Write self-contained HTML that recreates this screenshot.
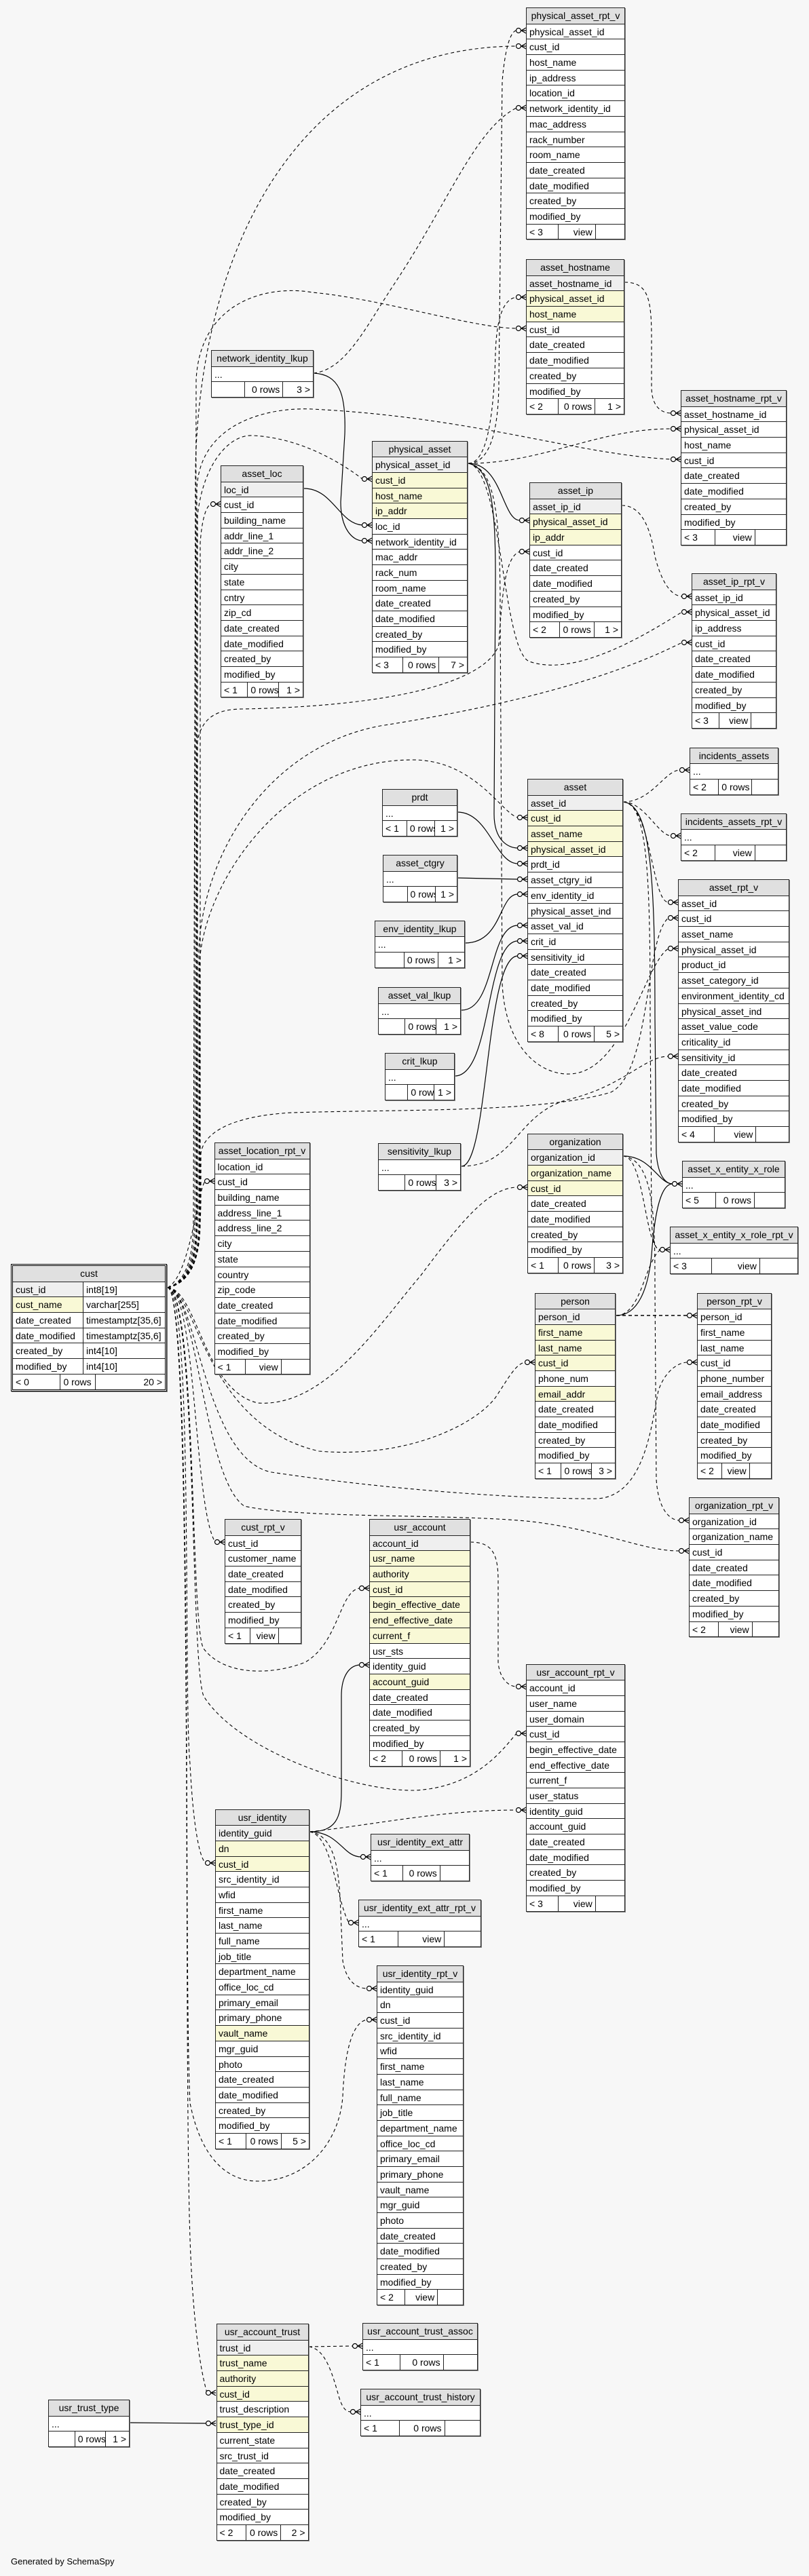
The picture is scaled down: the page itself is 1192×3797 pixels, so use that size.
<!DOCTYPE html>
<html><head><meta charset="utf-8"><style>
*{margin:0;padding:0}
body{width:1192px;height:3797px;background:#f7f7f7;position:relative;overflow:hidden;font:14px "Liberation Sans",Arial,sans-serif;color:#000}
svg{position:absolute;left:0;top:0}
.t{position:absolute;border:1px solid #222;background:#fff;box-sizing:border-box;box-shadow:1px 1px 0 #888}
.t>div{height:22.7px;line-height:22px;border-top:1px solid #222;padding-left:4px;white-space:nowrap;overflow:hidden;box-sizing:border-box}
.t>div.h{background:#e0e0e0;text-align:center;border-top:none;padding-left:0}
.t>div.k{background:#efefef}
.t>div.y{background:#f9f9d6}
.t>div.f{display:flex;padding-left:0}
.f span{display:block;box-sizing:border-box;height:100%;padding:0 4px;overflow:hidden}
.f span:nth-child(1){width:32%}
.f span:nth-child(2){width:38%;border-left:1px solid #222;text-align:right}
.f span:nth-child(3){flex:1;border-left:1px solid #222;text-align:right}
.c{border:3px double #000}
.t>div.r{display:flex;padding-left:0}
.r span{display:block;box-sizing:border-box;padding-left:4px;height:100%}
.r span:first-child{width:104px;border-right:1px solid #222}
#gen{position:absolute;left:16px;top:3768px;font-size:13px}
</style></head><body>
<svg width="1192" height="3797" viewBox="0 0 1192 3797">
<defs><g id="cf" fill="none" stroke="#000" stroke-width="1.2"><circle cx="-11" cy="0" r="3.5" fill="#fff"/><path d="M-7 0L0 -4M-7 0L0 0M-7 0L0 4"/></g></defs>
<g fill="none" stroke="#000" stroke-width="1.1" stroke-dasharray="5,4">
<path d="M247,1898 C275,1890 285,1850 285,1800 L288,700 C290,400 420,70 761,68"/>
<path d="M247,1898 C278,1890 287,1850 287,1800 L289,560 C295,440 400,420 460,431 C560,440 700,484 761,484"/>
<path d="M247,1898 C280,1890 289,1850 289,1800 L290,720 C295,620 400,600 460,603 C700,615 850,670 989,677"/>
<path d="M247,1898 C282,1890 291,1850 291,1800 L291,760 C300,680 340,640 372,642 C440,645 500,680 534,706"/>
<path d="M247,1898 C284,1890 295,1850 295,1800 L295,800 C298,760 305,745 311,743"/>
<path d="M247,1898 C280,1890 290,1850 290,1800 L290,1100 C295,1050 330,1045 360,1045 C600,1040 720,1000 735,950 C740,870 745,820 766,813"/>
<path d="M247,1898 C283,1890 293,1850 293,1800 L293,1400 C300,1250 400,1100 560,1070 C750,1040 900,1000 1005,947"/>
<path d="M247,1898 C284,1890 294,1850 294,1800 L294,1420 C300,1300 420,1120 608,1120 C700,1120 740,1200 763,1205"/>
<path d="M247,1898 C285,1890 296,1850 296,1760 L296,1700 C300,1670 340,1645 430,1640 C600,1635 800,1640 900,1610 C960,1580 950,1380 985,1353"/>
<path d="M247,1898 C280,1880 290,1760 302,1741"/>
<path d="M247,1898 C290,1900 300,2050 380,2068 C480,2075 560,1950 620,1880 C680,1800 720,1750 763,1750"/>
<path d="M247,1898 C290,1900 300,2100 470,2139 C600,2150 700,2100 730,2060 C750,2030 760,2010 774,2008"/>
<path d="M247,1898 C290,1900 300,2150 400,2170 C600,2200 800,2210 880,2209 C950,2205 960,2100 970,2050 C980,2020 1000,2008 1013,2008"/>
<path d="M247,1898 C290,1900 300,2180 360,2220 C450,2240 700,2230 800,2245 C900,2260 950,2286 1001,2286"/>
<path d="M247,1898 C290,1900 285,2220 317,2273"/>
<path d="M247,1898 C290,1900 280,2400 300,2430 C330,2470 400,2470 450,2450 C500,2420 500,2345 530,2341"/>
<path d="M247,1898 C290,1900 280,2450 300,2500 C350,2580 520,2640 610,2639 C700,2635 740,2580 761,2555"/>
<path d="M247,1898 C285,1900 270,2500 280,2600 C285,2700 295,2740 303,2746"/>
<path d="M247,1898 C285,1900 270,2900 280,3100 C300,3200 350,3215 380,3215 C450,3215 500,3160 505,3090 C508,3020 520,2980 541,2977"/>
<path d="M247,1898 C285,1900 270,3000 280,3300 C285,3450 300,3510 305,3527"/>
<path d="M462,550 C510,545 540,480 580,420 C660,300 700,190 761,159"/>
<path d="M690,683 C720,683 735,640 735,560 L740,120 C745,60 755,45 761,45"/>
<path d="M690,683 C720,683 728,600 730,520 C732,460 745,440 761,438"/>
<path d="M690,683 C800,683 880,632 989,632"/>
<path d="M690,683 C740,690 740,960 780,975 C850,1000 960,930 1005,902"/>
<path d="M690,683 C730,690 737,760 737,900 L740,1450 C745,1550 800,1585 840,1583 C920,1580 950,1420 985,1398"/>
<path d="M920,416 C955,416 960,440 960,500 L960,570 C960,600 975,609 989,609"/>
<path d="M916,745 C950,745 960,790 965,820 C975,860 990,879 1005,879"/>
<path d="M680,1719 C760,1719 760,1640 840,1620 C920,1600 950,1557 985,1557"/>
<path d="M918,1182 C960,1182 980,1135 1002,1135"/>
<path d="M918,1182 C950,1182 970,1232 989,1232"/>
<path d="M918,1182 C960,1185 960,1330 985,1330"/>
<path d="M918,1182 C955,1182 958,1300 958,1500 L960,1800 C962,1830 965,1842 973,1842"/>
<path d="M918,1704 C950,1704 950,1842 973,1842"/>
<path d="M918,1704 C965,1710 965,1800 965,1900 L967,2180 C970,2230 990,2241 1001,2241"/>
<path d="M908,1939 L1013,1939" stroke-width="1.6"/>
<path d="M908,1939 C945,1939 950,1860 973,1842"/>
<path d="M693,2273 C725,2273 734,2290 734,2330 L734,2450 C736,2475 750,2486 761,2486"/>
<path d="M456,2700 C550,2690 650,2668 761,2668"/>
<path d="M456,2700 C490,2705 495,2800 514,2834"/>
<path d="M456,2700 C495,2705 500,2760 502,2820 L505,2890 C510,2920 525,2931 541,2931"/>
<path d="M455,3459 L520,3458"/>
<path d="M455,3459 C480,3462 490,3500 500,3535 C505,3550 510,3555 517,3555"/>
</g>
<g fill="none" stroke="#000" stroke-width="1.2">
<path d="M462,550 C500,552 510,580 508,640 L502,740 C502,780 520,797 534,797"/>
<path d="M448,720 C490,720 500,772 534,774"/>
<path d="M690,683 C740,683 740,767 766,767"/>
<path d="M690,683 C725,690 730,750 730,850 L728,1200 C728,1240 750,1250 763,1250"/>
<path d="M674,1197 C720,1197 730,1273 763,1273"/>
<path d="M674,1294 L763,1296"/>
<path d="M685,1390 C740,1390 735,1318 763,1318"/>
<path d="M680,1489 C730,1489 720,1364 763,1364"/>
<path d="M670,1586 C725,1586 715,1387 763,1387"/>
<path d="M680,1719 C720,1719 715,1409 763,1409"/>
<path d="M918,1182 C960,1185 965,1300 965,1500 L967,1700 C970,1740 985,1745 991,1745"/>
<path d="M918,1704 C960,1704 970,1745 991,1745"/>
<path d="M908,1939 C940,1939 955,1900 960,1850 C965,1780 975,1745 991,1745"/>
<path d="M456,2700 C495,2700 503,2680 503,2640 L503,2500 C503,2470 515,2455 530,2454"/>
<path d="M456,2700 C500,2700 505,2737 532,2737"/>
<path d="M191,3571 L304,3572"/>
</g>
<use href="#cf" x="775" y="45"/><use href="#cf" x="775" y="68"/><use href="#cf" x="775" y="159"/>
<use href="#cf" x="775" y="438"/><use href="#cf" x="775" y="484"/>
<use href="#cf" x="1003" y="609"/><use href="#cf" x="1003" y="632"/><use href="#cf" x="1003" y="677"/>
<use href="#cf" x="548" y="706"/><use href="#cf" x="548" y="774"/><use href="#cf" x="548" y="797"/>
<use href="#cf" x="325" y="743"/>
<use href="#cf" x="780" y="767"/><use href="#cf" x="780" y="813"/>
<use href="#cf" x="1019" y="879"/><use href="#cf" x="1019" y="902"/><use href="#cf" x="1019" y="947"/>
<use href="#cf" x="1016" y="1135"/><use href="#cf" x="1003" y="1232"/>
<use href="#cf" x="777" y="1205"/><use href="#cf" x="777" y="1250"/><use href="#cf" x="777" y="1273"/><use href="#cf" x="777" y="1296"/><use href="#cf" x="777" y="1318"/><use href="#cf" x="777" y="1364"/><use href="#cf" x="777" y="1387"/><use href="#cf" x="777" y="1409"/>
<use href="#cf" x="999" y="1330"/><use href="#cf" x="999" y="1353"/><use href="#cf" x="999" y="1398"/><use href="#cf" x="999" y="1557"/>
<use href="#cf" x="777" y="1750"/>
<use href="#cf" x="1005" y="1745"/><use href="#cf" x="987" y="1842"/>
<use href="#cf" x="316" y="1741"/>
<use href="#cf" x="788" y="2008"/><use href="#cf" x="1027" y="1939"/><use href="#cf" x="1027" y="2008"/>
<use href="#cf" x="1015" y="2241"/><use href="#cf" x="1015" y="2286"/>
<use href="#cf" x="331" y="2273"/>
<use href="#cf" x="544" y="2341"/><use href="#cf" x="544" y="2454"/>
<use href="#cf" x="775" y="2486"/><use href="#cf" x="775" y="2555"/><use href="#cf" x="775" y="2668"/>
<use href="#cf" x="317" y="2746"/>
<use href="#cf" x="546" y="2737"/><use href="#cf" x="528" y="2834"/>
<use href="#cf" x="555" y="2931"/><use href="#cf" x="555" y="2977"/>
<use href="#cf" x="318" y="3527"/><use href="#cf" x="318" y="3572"/>
<use href="#cf" x="534" y="3458"/><use href="#cf" x="531" y="3555"/>
</svg>

<div class="t" style="left:775px;top:11px;width:146px"><div class="h">physical_asset_rpt_v</div><div>physical_asset_id</div><div>cust_id</div><div>host_name</div><div>ip_address</div><div>location_id</div><div>network_identity_id</div><div>mac_address</div><div>rack_number</div><div>room_name</div><div>date_created</div><div>date_modified</div><div>created_by</div><div>modified_by</div><div class="f"><span>&lt; 3</span><span>view</span><span></span></div></div>

<div class="t" style="left:775px;top:382px;width:145px"><div class="h">asset_hostname</div><div class="k">asset_hostname_id</div><div class="y">physical_asset_id</div><div class="y">host_name</div><div>cust_id</div><div>date_created</div><div>date_modified</div><div>created_by</div><div>modified_by</div><div class="f"><span>&lt; 2</span><span>0 rows</span><span>1 &gt;</span></div></div>

<div class="t" style="left:311px;top:516px;width:151px"><div class="h">network_identity_lkup</div><div>...</div><div class="f"><span></span><span>0 rows</span><span>3 &gt;</span></div></div>

<div class="t" style="left:1003px;top:575px;width:156px"><div class="h">asset_hostname_rpt_v</div><div>asset_hostname_id</div><div>physical_asset_id</div><div>host_name</div><div>cust_id</div><div>date_created</div><div>date_modified</div><div>created_by</div><div>modified_by</div><div class="f"><span>&lt; 3</span><span>view</span><span></span></div></div>

<div class="t" style="left:548px;top:649.5px;width:141px"><div class="h">physical_asset</div><div class="k">physical_asset_id</div><div class="y">cust_id</div><div class="y">host_name</div><div class="y">ip_addr</div><div>loc_id</div><div>network_identity_id</div><div>mac_addr</div><div>rack_num</div><div>room_name</div><div>date_created</div><div>date_modified</div><div>created_by</div><div>modified_by</div><div class="f"><span>&lt; 3</span><span>0 rows</span><span>7 &gt;</span></div></div>

<div class="t" style="left:325px;top:686px;width:122px"><div class="h">asset_loc</div><div class="k">loc_id</div><div>cust_id</div><div>building_name</div><div>addr_line_1</div><div>addr_line_2</div><div>city</div><div>state</div><div>cntry</div><div>zip_cd</div><div>date_created</div><div>date_modified</div><div>created_by</div><div>modified_by</div><div class="f"><span>&lt; 1</span><span>0 rows</span><span>1 &gt;</span></div></div>

<div class="t" style="left:780px;top:711px;width:136px"><div class="h">asset_ip</div><div class="k">asset_ip_id</div><div class="y">physical_asset_id</div><div class="y">ip_addr</div><div>cust_id</div><div>date_created</div><div>date_modified</div><div>created_by</div><div>modified_by</div><div class="f"><span>&lt; 2</span><span>0 rows</span><span>1 &gt;</span></div></div>

<div class="t" style="left:1019px;top:845px;width:125px"><div class="h">asset_ip_rpt_v</div><div>asset_ip_id</div><div>physical_asset_id</div><div>ip_address</div><div>cust_id</div><div>date_created</div><div>date_modified</div><div>created_by</div><div>modified_by</div><div class="f"><span>&lt; 3</span><span>view</span><span></span></div></div>

<div class="t" style="left:1016px;top:1101.5px;width:131px"><div class="h">incidents_assets</div><div>...</div><div class="f"><span>&lt; 2</span><span>0 rows</span><span></span></div></div>

<div class="t" style="left:1003px;top:1198.5px;width:156px"><div class="h">incidents_assets_rpt_v</div><div>...</div><div class="f"><span>&lt; 2</span><span>view</span><span></span></div></div>

<div class="t" style="left:563px;top:1163px;width:111px"><div class="h">prdt</div><div>...</div><div class="f"><span>&lt; 1</span><span>0 rows</span><span>1 &gt;</span></div></div>

<div class="t" style="left:777px;top:1148px;width:141px"><div class="h">asset</div><div class="k">asset_id</div><div class="y">cust_id</div><div class="y">asset_name</div><div class="y">physical_asset_id</div><div>prdt_id</div><div>asset_ctgry_id</div><div>env_identity_id</div><div>physical_asset_ind</div><div>asset_val_id</div><div>crit_id</div><div>sensitivity_id</div><div>date_created</div><div>date_modified</div><div>created_by</div><div>modified_by</div><div class="f"><span>&lt; 8</span><span>0 rows</span><span>5 &gt;</span></div></div>

<div class="t" style="left:564px;top:1260px;width:110px"><div class="h">asset_ctgry</div><div>...</div><div class="f"><span></span><span>0 rows</span><span>1 &gt;</span></div></div>

<div class="t" style="left:999px;top:1296px;width:164px"><div class="h">asset_rpt_v</div><div>asset_id</div><div>cust_id</div><div>asset_name</div><div>physical_asset_id</div><div>product_id</div><div>asset_category_id</div><div>environment_identity_cd</div><div>physical_asset_ind</div><div>asset_value_code</div><div>criticality_id</div><div>sensitivity_id</div><div>date_created</div><div>date_modified</div><div>created_by</div><div>modified_by</div><div class="f"><span>&lt; 4</span><span>view</span><span></span></div></div>

<div class="t" style="left:552px;top:1356.5px;width:133px"><div class="h">env_identity_lkup</div><div>...</div><div class="f"><span></span><span>0 rows</span><span>1 &gt;</span></div></div>

<div class="t" style="left:557px;top:1455px;width:122px"><div class="h">asset_val_lkup</div><div>...</div><div class="f"><span></span><span>0 rows</span><span>1 &gt;</span></div></div>

<div class="t" style="left:567px;top:1552px;width:103px"><div class="h">crit_lkup</div><div>...</div><div class="f"><span></span><span>0 rows</span><span>1 &gt;</span></div></div>

<div class="t" style="left:557px;top:1685px;width:122px"><div class="h">sensitivity_lkup</div><div>...</div><div class="f"><span></span><span>0 rows</span><span>3 &gt;</span></div></div>

<div class="t" style="left:777px;top:1670.5px;width:141px"><div class="h">organization</div><div class="k">organization_id</div><div class="y">organization_name</div><div class="y">cust_id</div><div>date_created</div><div>date_modified</div><div>created_by</div><div>modified_by</div><div class="f"><span>&lt; 1</span><span>0 rows</span><span>3 &gt;</span></div></div>

<div class="t" style="left:1005px;top:1711px;width:152px"><div class="h">asset_x_entity_x_role</div><div>...</div><div class="f"><span>&lt; 5</span><span>0 rows</span><span></span></div></div>

<div class="t" style="left:987px;top:1808px;width:189px"><div class="h">asset_x_entity_x_role_rpt_v</div><div>...</div><div class="f"><span>&lt; 3</span><span>view</span><span></span></div></div>

<div class="t" style="left:315.5px;top:1684px;width:141px"><div class="h">asset_location_rpt_v</div><div>location_id</div><div>cust_id</div><div>building_name</div><div>address_line_1</div><div>address_line_2</div><div>city</div><div>state</div><div>country</div><div>zip_code</div><div>date_created</div><div>date_modified</div><div>created_by</div><div>modified_by</div><div class="f"><span>&lt; 1</span><span>view</span><span></span></div></div>

<div class="t c" style="left:16px;top:1863px;width:230px"><div class="h">cust</div><div class="r"><span style="background:#efefef">cust_id</span><span>int8[19]</span></div><div class="r"><span style="background:#f9f9d6">cust_name</span><span>varchar[255]</span></div><div class="r"><span>date_created</span><span>timestamptz[35,6]</span></div><div class="r"><span>date_modified</span><span>timestamptz[35,6]</span></div><div class="r"><span>created_by</span><span>int4[10]</span></div><div class="r"><span>modified_by</span><span>int4[10]</span></div><div class="f"><span style="width:31%">&lt; 0</span><span style="width:23%;text-align:left">0 rows</span><span>20 &gt;</span></div></div>

<div class="t" style="left:788px;top:1905.5px;width:119px"><div class="h">person</div><div class="k">person_id</div><div class="y">first_name</div><div class="y">last_name</div><div class="y">cust_id</div><div>phone_num</div><div class="y">email_addr</div><div>date_created</div><div>date_modified</div><div>created_by</div><div>modified_by</div><div class="f"><span>&lt; 1</span><span>0 rows</span><span>3 &gt;</span></div></div>

<div class="t" style="left:1027px;top:1905.5px;width:110px"><div class="h">person_rpt_v</div><div>person_id</div><div>first_name</div><div>last_name</div><div>cust_id</div><div>phone_number</div><div>email_address</div><div>date_created</div><div>date_modified</div><div>created_by</div><div>modified_by</div><div class="f"><span>&lt; 2</span><span>view</span><span></span></div></div>

<div class="t" style="left:1015px;top:2207px;width:133px"><div class="h">organization_rpt_v</div><div>organization_id</div><div>organization_name</div><div>cust_id</div><div>date_created</div><div>date_modified</div><div>created_by</div><div>modified_by</div><div class="f"><span>&lt; 2</span><span>view</span><span></span></div></div>

<div class="t" style="left:331px;top:2239px;width:113px"><div class="h">cust_rpt_v</div><div>cust_id</div><div>customer_name</div><div>date_created</div><div>date_modified</div><div>created_by</div><div>modified_by</div><div class="f"><span>&lt; 1</span><span>view</span><span></span></div></div>

<div class="t" style="left:544px;top:2239px;width:149px"><div class="h">usr_account</div><div class="k">account_id</div><div class="y">usr_name</div><div class="y">authority</div><div class="y">cust_id</div><div class="y">begin_effective_date</div><div class="y">end_effective_date</div><div class="y">current_f</div><div>usr_sts</div><div>identity_guid</div><div class="y">account_guid</div><div>date_created</div><div>date_modified</div><div>created_by</div><div>modified_by</div><div class="f"><span>&lt; 2</span><span>0 rows</span><span>1 &gt;</span></div></div>

<div class="t" style="left:775px;top:2452.5px;width:146px"><div class="h">usr_account_rpt_v</div><div>account_id</div><div>user_name</div><div>user_domain</div><div>cust_id</div><div>begin_effective_date</div><div>end_effective_date</div><div>current_f</div><div>user_status</div><div>identity_guid</div><div>account_guid</div><div>date_created</div><div>date_modified</div><div>created_by</div><div>modified_by</div><div class="f"><span>&lt; 3</span><span>view</span><span></span></div></div>

<div class="t" style="left:317px;top:2666.5px;width:139px"><div class="h">usr_identity</div><div class="k">identity_guid</div><div class="y">dn</div><div class="y">cust_id</div><div>src_identity_id</div><div>wfid</div><div>first_name</div><div>last_name</div><div>full_name</div><div>job_title</div><div>department_name</div><div>office_loc_cd</div><div>primary_email</div><div>primary_phone</div><div class="y">vault_name</div><div>mgr_guid</div><div>photo</div><div>date_created</div><div>date_modified</div><div>created_by</div><div>modified_by</div><div class="f"><span>&lt; 1</span><span>0 rows</span><span>5 &gt;</span></div></div>

<div class="t" style="left:546px;top:2703px;width:146px"><div class="h">usr_identity_ext_attr</div><div>...</div><div class="f"><span>&lt; 1</span><span>0 rows</span><span></span></div></div>

<div class="t" style="left:528px;top:2800px;width:181px"><div class="h">usr_identity_ext_attr_rpt_v</div><div>...</div><div class="f"><span>&lt; 1</span><span>view</span><span></span></div></div>

<div class="t" style="left:555px;top:2897px;width:128px"><div class="h">usr_identity_rpt_v</div><div>identity_guid</div><div>dn</div><div>cust_id</div><div>src_identity_id</div><div>wfid</div><div>first_name</div><div>last_name</div><div>full_name</div><div>job_title</div><div>department_name</div><div>office_loc_cd</div><div>primary_email</div><div>primary_phone</div><div>vault_name</div><div>mgr_guid</div><div>photo</div><div>date_created</div><div>date_modified</div><div>created_by</div><div>modified_by</div><div class="f"><span>&lt; 2</span><span>view</span><span></span></div></div>

<div class="t" style="left:318.5px;top:3425px;width:136px"><div class="h">usr_account_trust</div><div class="k">trust_id</div><div class="y">trust_name</div><div class="y">authority</div><div class="y">cust_id</div><div>trust_description</div><div class="y">trust_type_id</div><div>current_state</div><div>src_trust_id</div><div>date_created</div><div>date_modified</div><div>created_by</div><div>modified_by</div><div class="f"><span>&lt; 2</span><span>0 rows</span><span>2 &gt;</span></div></div>

<div class="t" style="left:534px;top:3424px;width:170px"><div class="h">usr_account_trust_assoc</div><div>...</div><div class="f"><span>&lt; 1</span><span>0 rows</span><span></span></div></div>

<div class="t" style="left:531px;top:3521px;width:177px"><div class="h">usr_account_trust_history</div><div>...</div><div class="f"><span>&lt; 1</span><span>0 rows</span><span></span></div></div>

<div class="t" style="left:71px;top:3537px;width:120px"><div class="h">usr_trust_type</div><div>...</div><div class="f"><span></span><span>0 rows</span><span>1 &gt;</span></div></div>

<div id="gen">Generated by SchemaSpy</div>
</body></html>
